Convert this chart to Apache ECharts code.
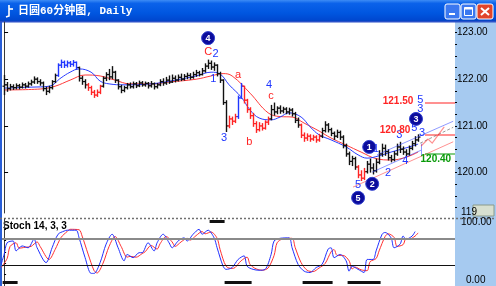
<!DOCTYPE html>
<html><head><meta charset="utf-8">
<script src="https://cdn.jsdelivr.net/npm/echarts@6/dist/echarts.min.js"></script>
<style>html,body{margin:0;padding:0;background:#fff;overflow:hidden}#c{width:496px;height:286px}</style>
</head><body><div id="c"></div>
<script>
// ---------------- data ----------------
const titleText = '日圆60分钟图, Daily';
const stochTitle = 'Stoch 14, 3, 3';
const priceTicks = [120, 121, 122, 123];
const priceMinorTicks = [119.25,119.5,119.75,120,120.25,120.5,120.75,121,121.25,121.5,121.75,122,122.25,122.5,122.75,123];
const stochTickLabels = ['100.00', '0.00'];
const hiddenPriceLabel = '119';
// bars: [open, close, low, high]
const bars = [
[121.85,121.88,121.66,122.09],[121.88,121.80,121.73,121.94],[121.80,121.84,121.76,121.90],[121.84,121.82,121.77,121.89],
[121.82,121.86,121.78,121.91],[121.86,121.83,121.78,121.90],[121.83,121.88,121.80,121.93],[121.88,121.85,121.80,121.92],
[121.85,121.90,121.82,121.95],[121.90,121.94,121.86,121.99],[121.94,122.00,121.90,122.06],[122.00,121.95,121.90,122.04],
[121.95,121.92,121.86,122.00],[121.92,121.80,121.74,121.95],[121.80,121.74,121.66,121.84],[121.74,121.82,121.70,121.86],
[121.82,121.95,121.78,121.98],[121.95,122.08,121.92,122.12],[122.08,122.30,122.05,122.34],[122.30,122.36,122.24,122.42],
[122.36,122.30,122.24,122.40],[122.30,122.35,122.25,122.40],[122.35,122.32,122.26,122.39],[122.32,122.36,122.27,122.41],
[122.36,122.25,122.20,122.38],[122.25,122.02,121.95,122.27],[122.02,121.95,121.88,122.07],[121.95,121.88,121.80,122.00],
[121.88,121.82,121.75,121.92],[121.82,121.72,121.66,121.86],[121.72,121.66,121.60,121.77],[121.66,121.72,121.62,121.78],
[121.72,121.85,121.68,121.88],[121.85,122.02,121.82,122.06],[122.02,122.10,121.96,122.15],[122.10,122.05,121.98,122.22],
[122.05,122.15,122.00,122.28],[122.15,121.98,121.92,122.18],[121.98,121.84,121.78,122.00],[121.84,121.76,121.70,121.88],
[121.76,121.82,121.72,121.86],[121.82,121.88,121.78,121.92],[121.88,121.84,121.80,121.93],[121.84,121.90,121.80,121.95],
[121.90,121.86,121.81,121.94],[121.86,121.92,121.83,121.97],[121.92,121.88,121.84,121.96],[121.88,121.91,121.84,121.95],
[121.91,121.86,121.80,121.94],[121.86,121.90,121.82,121.96],[121.90,121.84,121.78,121.93],[121.84,121.88,121.80,121.92],
[121.88,121.95,121.85,122.00],[121.95,121.92,121.86,122.02],[121.92,121.98,121.88,122.05],[121.98,121.94,121.90,122.08],
[121.94,122.02,121.92,122.10],[122.02,121.98,121.93,122.08],[121.98,122.04,121.95,122.10],[122.04,122.00,121.96,122.12],
[122.00,122.06,121.97,122.11],[122.06,122.08,122.00,122.14],[122.08,122.04,121.99,122.13],[122.04,122.10,122.01,122.16],
[122.10,122.14,122.05,122.20],[122.14,122.10,122.06,122.18],[122.10,122.18,122.08,122.24],[122.18,122.28,122.14,122.34],
[122.28,122.34,122.22,122.42],[122.34,122.26,122.20,122.40],[122.26,122.30,122.18,122.36],[122.30,122.12,122.06,122.32],
[122.12,121.98,121.92,122.16],[121.98,121.50,121.45,122.00],[121.50,121.00,120.87,121.55],[121.00,121.15,120.95,121.22],
[121.15,121.10,121.02,121.20],[121.10,121.20,121.06,121.26],[121.20,121.60,121.15,121.65],[121.60,121.85,121.58,121.92],
[121.85,121.55,121.48,121.86],[121.55,121.35,121.28,121.58],[121.35,121.22,121.15,121.40],[121.22,121.05,120.98,121.28],
[121.05,120.92,120.85,121.10],[120.92,121.00,120.88,121.08],[121.00,120.95,120.90,121.06],[120.95,121.08,120.92,121.12],
[121.08,121.15,121.02,121.20],[121.15,121.35,121.12,121.45],[121.35,121.30,121.22,121.50],[121.30,121.38,121.25,121.42],
[121.38,121.32,121.26,121.44],[121.32,121.36,121.27,121.41],[121.36,121.30,121.25,121.40],[121.30,121.34,121.24,121.39],
[121.34,121.26,121.20,121.38],[121.26,121.12,121.06,121.30],[121.12,121.02,120.96,121.18],[121.02,120.80,120.74,121.05],
[120.80,120.74,120.66,120.86],[120.74,120.78,120.68,120.84],[120.78,120.72,120.66,120.82],[120.72,120.76,120.68,120.81],
[120.76,120.70,120.64,120.80],[120.70,120.78,120.66,120.83],[120.78,120.90,120.74,120.96],[120.90,121.02,120.86,121.10],
[121.02,120.92,120.86,121.06],[120.92,120.84,120.78,120.96],[120.84,120.78,120.70,120.88],[120.78,120.86,120.74,120.92],
[120.86,120.76,120.70,120.90],[120.76,120.58,120.52,120.80],[120.58,120.40,120.34,120.62],[120.40,120.24,120.16,120.45],
[120.24,120.30,120.14,120.36],[120.30,120.12,120.06,120.34],[120.12,119.95,119.88,120.16],[119.95,119.88,119.82,120.05],
[119.88,120.02,119.84,120.10],[120.02,120.18,119.98,120.25],[120.18,120.10,120.00,120.30],[120.10,120.04,119.96,120.20],
[120.04,120.22,120.00,120.30],[120.22,120.40,120.18,120.48],[120.40,120.52,120.34,120.62],[120.52,120.45,120.36,120.60],
[120.45,120.32,120.26,120.50],[120.32,120.28,120.22,120.38],[120.28,120.40,120.24,120.46],[120.40,120.55,120.36,120.62],
[120.55,120.50,120.42,120.66],[120.50,120.44,120.38,120.56],[120.44,120.40,120.34,120.50],[120.40,120.52,120.36,120.58],
[120.52,120.62,120.48,120.68],[120.62,120.70,120.56,120.78],[120.70,120.76,120.66,120.82]
];
// moving averages [barIndex, price]
const maFast = [[0,121.81],[9,121.83],[15,121.85],[19,122.03],[22,122.15],[25,122.22],[29,122.15],[32,121.96],[35,121.90],[40,121.88],[49,121.90],[57,121.98],[64,122.07],[69,122.15],[72,122.11],[75,121.88],[79,121.62],[82,121.34],[85,121.17],[89,121.13],[92,121.19],[95,121.28],[99,121.19],[102,120.98],[105,120.81],[109,120.70],[114,120.55],[118,120.38],[121,120.31],[125,120.36],[129,120.44],[134,120.53],[138,120.61]];
const maSlow = [[0,121.77],[12,121.79],[17,121.85],[22,121.98],[27,122.09],[32,122.07],[37,121.98],[42,121.90],[49,121.90],[55,121.94],[64,122.00],[69,122.07],[73,122.12],[76,122.07],[82,121.70],[88,121.28],[92,121.20],[96,121.19],[100,121.06],[105,120.89],[109,120.74],[114,120.59],[119,120.44],[124,120.30],[129,120.27],[134,120.33],[138,120.44]];
// stochastic [barIndex, value]
const stochK = [[-1,22],[0,44],[1,70],[3,74],[4,52],[6,63],[8,59],[10,78],[11,59],[14,26],[16,59],[18,89],[20,96],[21,98],[24,98],[25,81],[27,37],[29,2],[30,2],[32,26],[34,67],[36,89],[38,59],[40,30],[41,44],[43,37],[45,48],[46,48],[48,70],[50,52],[51,70],[53,89],[55,70],[56,59],[58,74],[60,81],[61,74],[63,89],[65,100],[66,89],[68,98],[70,81],[71,59],[73,18],[74,11],[76,15],[78,33],[80,41],[81,18],[83,11],[85,9],[87,11],[89,44],[90,74],[92,80],[95,81],[96,59],[98,22],[100,7],[102,4],[104,15],[106,22],[108,56],[109,59],[110,37],[112,44],[114,30],[115,7],[116,18],[118,11],[120,4],[121,33],[123,33],[124,52],[126,89],[127,93],[129,81],[130,59],[132,67],[133,85],[134,78],[136,85],[137,95]];
const stochD = [[-1,15],[1,35],[2,62],[4,70],[5,58],[7,60],[9,62],[11,72],[12,62],[15,33],[17,55],[19,82],[21,95],[22,100],[25,99],[26,85],[28,45],[30,8],[31,3],[33,25],[35,62],[37,84],[39,62],[41,38],[42,40],[44,38],[46,46],[47,50],[49,64],[51,56],[52,68],[54,84],[56,72],[57,62],[59,72],[61,80],[62,76],[64,86],[66,95],[67,90],[69,94],[71,80],[72,55],[74,18],[76,13],[77,15],[79,30],[81,38],[82,22],[84,12],[86,9],[88,14],[90,42],[91,70],[93,79],[96,80],[97,60],[99,26],[101,9],[103,6],[105,14],[107,24],[109,50],[110,55],[111,42],[113,42],[115,30],[116,12],[117,16],[119,10],[121,8],[122,28],[124,35],[125,52],[127,84],[128,90],[130,82],[131,62],[133,66],[134,80],[135,78],[137,85],[138,92]];
const stochLevels = [80, 20];
// wave colouring of bars: [fromIndex, toIndex, kind]
const barSegments = [[18,24,'b'],[28,32,'r'],[75,77,'r'],[78,79,'b'],[80,88,'r'],[99,105,'r'],[118,120,'r']];
// wave labels [barIndex, price, text, kind]
const waveLabels = [[68,122.58,'C','r'],[70.5,122.55,'2','b'],[69.7,122.00,'1','b'],[73.3,120.74,'3','b'],[78,122.09,'a','r'],[81.7,120.66,'b','r'],[88.3,121.88,'4','b'],[89,121.64,'c','r'],[118,119.73,'5','b'],[124,120.51,'1','b'],[128,119.99,'2','b'],[131.7,120.80,'3','b'],[133.7,120.25,'4','b'],[136.7,120.95,'5','b'],[139.3,120.85,'3','b'],[138.7,121.55,'5','b'],[138.7,121.37,'3','b']];
const priceTags = [[131.3,121.53,'121.50','r'],[130.3,120.91,'120.80','r'],[143.9,120.29,'120.40','g']];
const circleLabels = [[68,122.88,'4'],[121.7,120.55,'1'],[122.7,119.76,'2'],[118,119.46,'5'],[137.3,121.15,'3']];
const levelLines = [[121.50,'r'],[120.80,'r'],[120.40,'g']];
const levelSpan = [140.3, 150.3];
const trendLines = [
  [[[116.3,119.69],[149.7,120.66]],'r'],
  [[[124.3,120.38],[149.7,121.10]],'b'],
  [[[122.7,120.01],[139,120.48]],'b'],
  [[[139,120.62],[139,120.36]],'b']
];
const dashLine = [[138.7,120.63],[149.7,120.97]];
const arrowPath = [[139,120.57],[141.3,120.72],[142.7,120.63],[146.7,120.98]];
const sessionBottom = [[0,4],[74,82],[100,109],[115,125]];
const sessionTop = [[69,73]];

// ---------------- styling / build ----------------
const COL = {b:'#1f36ff', r:'#ff2424', g:'#089a08', k:'#111111'};
const FONT = '"Liberation Sans", Arial, sans-serif';
function barColor(i){ for (const s of barSegments) if (i>=s[0] && i<=s[1]) return COL[s[2]]; return COL.k; }
const chart = echarts.init(document.getElementById('c'), null, {renderer:'canvas'});
const xDom = {min:-0.7, max:150.3};

const option = {
  animation:false,
  backgroundColor:'#ffffff',
  grid:[
    {left:2, top:22, width:453, height:191, show:false},
    {left:2, top:219, width:453, height:67, show:false}
  ],
  xAxis:[
    {gridIndex:0, type:'value', min:xDom.min, max:xDom.max, show:false},
    {gridIndex:1, type:'value', min:xDom.min, max:xDom.max, show:false}
  ],
  yAxis:[
    {gridIndex:0, type:'value', position:'right', min:119.135, max:123.225,
      axisLine:{show:true, lineStyle:{color:'#3a3a3a', width:1}},
      axisTick:{show:true, length:4, inside:false, customValues:priceTicks, lineStyle:{color:'#000'}},
      axisLabel:{show:true, customValues:priceTicks, formatter:v=>Number(v).toFixed(2), color:'#000', fontSize:10, fontFamily:FONT, margin:2},
      splitLine:{show:false}},
    {gridIndex:1, type:'value', position:'right', min:-26, max:122.9,
      axisLine:{show:true, lineStyle:{color:'#3a3a3a', width:1}},
      axisTick:{show:true, length:2, customValues:[0,25,50,75,100], lineStyle:{color:'#000'}},
      axisLabel:{show:false}, splitLine:{show:false}},
    {gridIndex:0, type:'value', position:'right', min:119.135, max:123.225,
      axisLine:{show:false}, axisTick:{show:true, length:2, customValues:priceMinorTicks, lineStyle:{color:'#000'}},
      axisLabel:{show:false}, splitLine:{show:false}}
  ],
  graphic:{elements:[
    {type:'rect', z:-5, shape:{x:455, y:22, width:41, height:264}, style:{fill:'#a6caf0'}},
    {type:'rect', z:-5, shape:{x:0, y:22, width:2, height:264}, style:{fill:'#2a5fd8'}},
    {type:'rect', shape:{x:0, y:0, width:496, height:22}, style:{fill:{type:'linear',x:0,y:0,x2:0,y2:1,colorStops:[
      {offset:0,color:'#3d8cf5'},{offset:0.15,color:'#0b62ea'},{offset:0.6,color:'#0056e0'},{offset:0.9,color:'#0048d0'},{offset:1,color:'#1040b0'}]}}},
    {type:'rect', shape:{x:0, y:21, width:496, height:1.5}, style:{fill:'#2a50c8'}},
    {type:'polyline', shape:{points:[[9,5],[9,16],[6,17]]}, style:{stroke:'#fff', lineWidth:1.6, fill:null}},
    {type:'line', shape:{x1:9,y1:9,x2:13,y2:9}, style:{stroke:'#fff', lineWidth:1.6}},
    {type:'text', x:18, y:11.5, style:{text:titleText, fill:'#ffffff', font:'bold 11px "Liberation Mono","Noto Sans CJK SC",monospace', verticalAlign:'middle'}},
    {type:'rect', shape:{x:445, y:4, width:15, height:15, r:2}, style:{fill:'#3b78f0', stroke:'#ffffff', lineWidth:1}},
    {type:'rect', shape:{x:449, y:13, width:6, height:2}, style:{fill:'#ffffff'}},
    {type:'rect', shape:{x:461, y:4, width:15, height:15, r:2}, style:{fill:'#3b78f0', stroke:'#ffffff', lineWidth:1}},
    {type:'rect', shape:{x:464.5, y:7.5, width:8, height:8}, style:{fill:null, stroke:'#ffffff', lineWidth:1}},
    {type:'rect', shape:{x:464.5, y:7.5, width:8, height:2}, style:{fill:'#ffffff'}},
    {type:'rect', shape:{x:477, y:4, width:16, height:15, r:2}, style:{fill:'#e0442a', stroke:'#ffffff', lineWidth:1}},
    {type:'line', shape:{x1:481,y1:8,x2:489,y2:15}, style:{stroke:'#fff', lineWidth:2}},
    {type:'line', shape:{x1:489,y1:8,x2:481,y2:15}, style:{stroke:'#fff', lineWidth:2}},
    {type:'line', shape:{x1:0,y1:218.5,x2:496,y2:218.5}, style:{stroke:'#707070', lineWidth:1.5, lineDash:[2,2]}},
    {type:'rect', shape:{x:473, y:205, width:21, height:11}, style:{fill:'#d8e0d0', stroke:'#8a9a8a', lineWidth:1}},
    {type:'text', x:461, y:212, style:{text:hiddenPriceLabel, fill:'#000', font:'10px '+FONT, verticalAlign:'middle'}},
    {type:'text', x:461, y:222, style:{text:stochTickLabels[0], fill:'#000', font:'10px '+FONT, verticalAlign:'middle'}},
    {type:'text', x:466, y:280, style:{text:stochTickLabels[1], fill:'#000', font:'10px '+FONT, verticalAlign:'middle'}},
    {type:'text', x:3, y:226, style:{text:stochTitle, fill:'#000', font:'bold 10px '+FONT, verticalAlign:'middle'}}
  ]},
  series:[
    {type:'line', xAxisIndex:0, yAxisIndex:0, data:maSlow, smooth:0.4, showSymbol:false, silent:true,
      lineStyle:{color:'#ff3a3a', width:1}, z:2},
    {type:'line', xAxisIndex:0, yAxisIndex:0, data:maFast, smooth:0.4, showSymbol:false, silent:true,
      lineStyle:{color:'#2a3cff', width:1}, z:2},
    {type:'custom', xAxisIndex:0, yAxisIndex:0, z:3,
      data:bars.map((b,i)=>[i,b[0],b[1],b[2],b[3]]),
      encode:{x:0, y:[1,2,3,4]},
      renderItem:function(params, api){
        const i = api.value(0);
        const x = Math.round(api.coord([i, 120])[0]) + 0.5;
        const yO = api.coord([i, api.value(1)])[1], yC = api.coord([i, api.value(2)])[1];
        const yL = api.coord([i, api.value(3)])[1], yH = api.coord([i, api.value(4)])[1];
        const c = barColor(i);
        return {type:'group', children:[
          {type:'line', shape:{x1:x, y1:yH, x2:x, y2:yL}, style:{stroke:c, lineWidth:1.4}},
          {type:'line', shape:{x1:x-2, y1:yO, x2:x, y2:yO}, style:{stroke:c, lineWidth:1.2}},
          {type:'line', shape:{x1:x, y1:yC, x2:x+2, y2:yC}, style:{stroke:c, lineWidth:1.2}}
        ]};
      }},
    {type:'lines', coordinateSystem:'cartesian2d', xAxisIndex:0, yAxisIndex:0, z:4, silent:true,
      data: trendLines.map(t=>({coords:t[0], lineStyle:{color:COL[t[1]], width:1}}))
        .concat(levelLines.map(l=>({coords:[[levelSpan[0],l[0]],[levelSpan[1],l[0]]], lineStyle:{color:COL[l[1]], width:2}})))
        .concat([{coords:dashLine, lineStyle:{color:'#333', width:1, type:[3,2]}}])},
    {type:'lines', coordinateSystem:'cartesian2d', xAxisIndex:0, yAxisIndex:0, z:4, silent:true, polyline:true,
      symbol:['none','arrow'], symbolSize:7,
      data:[{coords:arrowPath, lineStyle:{color:COL.r, width:1.2}}]},
    {type:'custom', xAxisIndex:0, yAxisIndex:0, z:5, data:waveLabels.map(d=>[d[0],d[1]]),
      renderItem:function(params, api){
        const d = waveLabels[params.dataIndex];
        const p = api.coord([api.value(0), api.value(1)]);
        return {type:'text', x:p[0], y:p[1], style:{text:d[2], fill:COL[d[3]], font:'11px '+FONT, align:'center', verticalAlign:'middle'}};
      }},
    {type:'custom', xAxisIndex:0, yAxisIndex:0, z:5, data:priceTags.map(d=>[d[0],d[1]]),
      renderItem:function(params, api){
        const d = priceTags[params.dataIndex];
        const p = api.coord([api.value(0), api.value(1)]);
        return {type:'text', x:p[0], y:p[1], style:{text:d[2], fill:COL[d[3]], font:'bold 10px '+FONT, align:'center', verticalAlign:'middle'}};
      }},
    {type:'custom', xAxisIndex:0, yAxisIndex:0, z:6, data:circleLabels.map(d=>[d[0],d[1]]),
      renderItem:function(params, api){
        const d = circleLabels[params.dataIndex];
        const p = api.coord([api.value(0), api.value(1)]);
        return {type:'group', children:[
          {type:'circle', shape:{cx:p[0], cy:p[1], r:6.5}, style:{fill:'#0c0c9c', stroke:'#3040d0', lineWidth:1}},
          {type:'text', x:p[0], y:p[1]+0.5, style:{text:d[2], fill:'#ffffff', font:'bold 9px '+FONT, align:'center', verticalAlign:'middle'}}
        ]};
      }},
    {type:'line', xAxisIndex:1, yAxisIndex:1, data:stochD, smooth:0.3, showSymbol:false, silent:true,
      lineStyle:{color:'#ff3030', width:1},
      markLine:{silent:true, symbol:'none', label:{show:false}, animation:false,
        data:[{yAxis:stochLevels[0], lineStyle:{color:'#8a8a8a', width:2, type:'solid'}},
              {yAxis:stochLevels[1], lineStyle:{color:'#111', width:1, type:'solid'}}]}},
    {type:'line', xAxisIndex:1, yAxisIndex:1, data:stochK, smooth:0.3, showSymbol:false, silent:true,
      lineStyle:{color:'#2030ff', width:1}},
    {type:'custom', xAxisIndex:1, yAxisIndex:1, z:3, data:sessionBottom.concat(sessionTop).map((s,k)=>[s[0],s[1],k<sessionBottom.length?0:1]),
      renderItem:function(params, api){
        const x1 = api.coord([api.value(0), 50])[0] - 1.5, x2 = api.coord([api.value(1), 50])[0] + 1.5;
        const cs = params.coordSys;
        const y = api.value(2) === 0 ? cs.y + cs.height - 5 : cs.y + 1;
        return {type:'rect', shape:{x:x1, y:y, width:x2-x1, height:3}, style:{fill:'#111'}};
      }}
  ]
};
chart.setOption(option);
</script></body></html>
